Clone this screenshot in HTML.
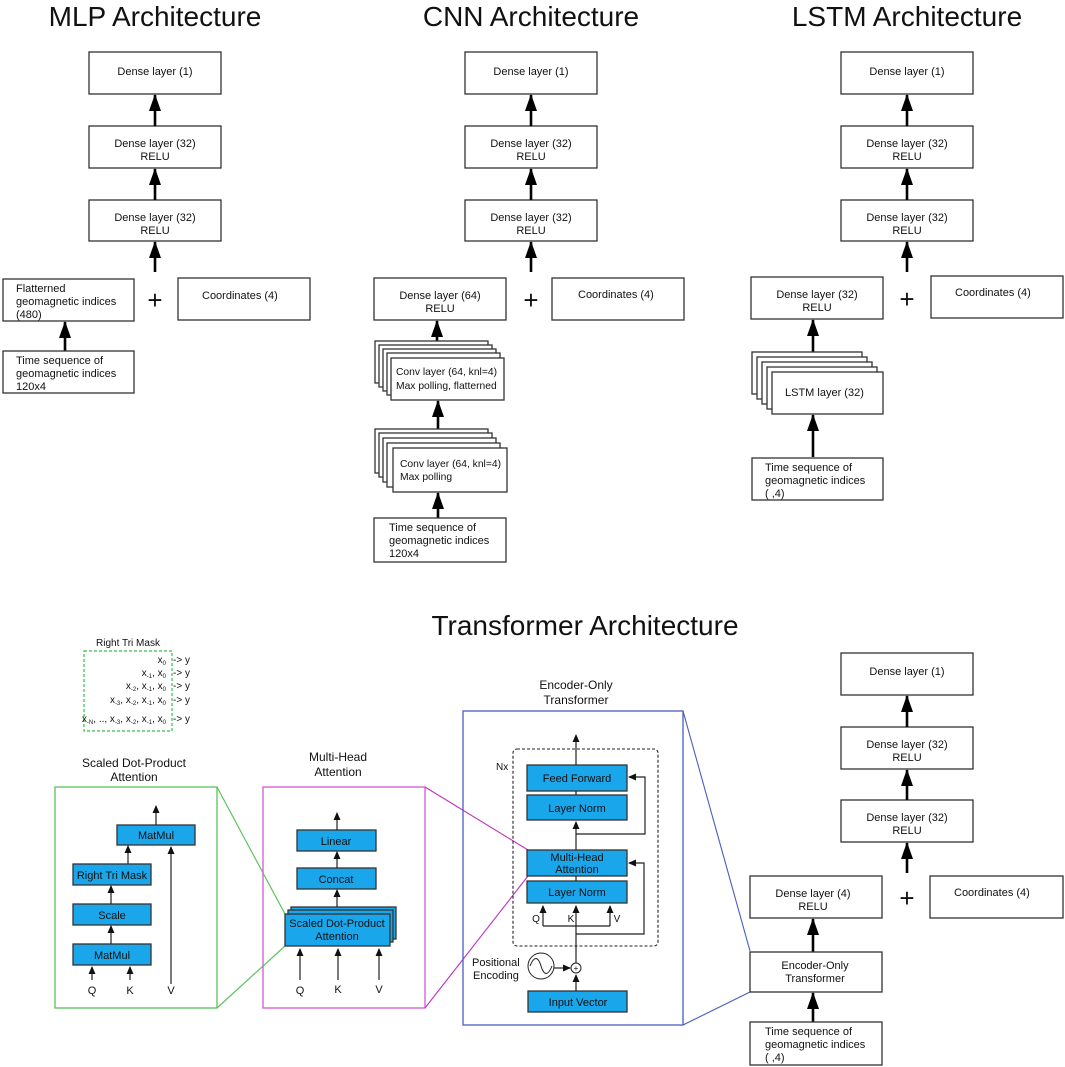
<!DOCTYPE html>
<html><head><meta charset="utf-8"><style>
html,body{margin:0;padding:0;background:#fff}
svg{display:block}
text{font-family:"Liberation Sans",Arial,sans-serif;fill:#111}
.b{fill:#fff;stroke:#333;stroke-width:1.3}
.t{font-size:11px}
.tc{font-size:10.3px}
.tt{font-size:28px}
.bl{fill:#1aa6ea;stroke:#333;stroke-width:1.3}
.a{stroke:#000;stroke-width:2.6;marker-end:url(#big)}
.s{stroke:#222;stroke-width:1.2;fill:none}
.sa{stroke:#222;stroke-width:1.2;fill:none;marker-end:url(#sm)}
.pl{font-size:26px}
</style></head><body>
<svg width="1065" height="1067" viewBox="0 0 1065 1067" xmlns="http://www.w3.org/2000/svg">
<defs>
<marker id="big" markerUnits="userSpaceOnUse" markerWidth="12" markerHeight="18" refX="6" refY="1" orient="0">
<path d="M0,17 L6,0 L12,17 z" fill="#000"/></marker>
<marker id="sm" markerUnits="userSpaceOnUse" markerWidth="8" markerHeight="8" refX="7" refY="3.5" orient="auto">
<path d="M0,0 L8,3.5 L0,7 z" fill="#111"/></marker>
</defs>

<!-- MLP -->
<text x="155" y="26" text-anchor="middle" class="tt">MLP Architecture</text>
<rect class="b" x="89" y="52" width="132" height="42"/><text class="t" x="155" y="75" text-anchor="middle">Dense layer (1)</text>
<rect class="b" x="89" y="126" width="132" height="42"/><text class="t" x="155" y="147" text-anchor="middle">Dense layer (32)</text><text class="t" x="155" y="160" text-anchor="middle">RELU</text>
<rect class="b" x="89" y="200" width="132" height="41"/><text class="t" x="155" y="221" text-anchor="middle">Dense layer (32)</text><text class="t" x="155" y="234" text-anchor="middle">RELU</text>
<line class="a" x1="155" y1="126" x2="155" y2="95"/>
<line class="a" x1="155" y1="200" x2="155" y2="169"/>
<line class="a" x1="155" y1="272" x2="155" y2="242"/>
<rect class="b" x="3" y="279" width="131" height="42"/><text class="t" x="16" y="292">Flatterned</text><text class="t" x="16" y="305">geomagnetic indices</text><text class="t" x="16" y="318">(480)</text>
<text class="pl" x="155" y="309" text-anchor="middle">+</text>
<rect class="b" x="178" y="278" width="132" height="42"/><text class="t" x="202" y="299">Coordinates (4)</text>
<line class="a" x1="65" y1="351" x2="65" y2="322"/>
<rect class="b" x="3" y="351" width="131" height="42"/><text class="t" x="16" y="364">Time sequence of</text><text class="t" x="16" y="377">geomagnetic indices</text><text class="t" x="16" y="390">120x4</text>

<!-- CNN -->
<text x="531" y="26" text-anchor="middle" class="tt">CNN Architecture</text>
<rect class="b" x="465" y="52" width="132" height="42"/><text class="t" x="531" y="75" text-anchor="middle">Dense layer (1)</text>
<rect class="b" x="465" y="126" width="132" height="42"/><text class="t" x="531" y="147" text-anchor="middle">Dense layer (32)</text><text class="t" x="531" y="160" text-anchor="middle">RELU</text>
<rect class="b" x="465" y="200" width="132" height="41"/><text class="t" x="531" y="221" text-anchor="middle">Dense layer (32)</text><text class="t" x="531" y="234" text-anchor="middle">RELU</text>
<line class="a" x1="531" y1="126" x2="531" y2="95"/>
<line class="a" x1="531" y1="200" x2="531" y2="169"/>
<line class="a" x1="531" y1="272" x2="531" y2="242"/>
<rect class="b" x="374" y="278" width="132" height="42"/><text class="t" x="440" y="299" text-anchor="middle">Dense layer (64)</text><text class="t" x="440" y="312" text-anchor="middle">RELU</text>
<text class="pl" x="531" y="309" text-anchor="middle">+</text>
<rect class="b" x="552" y="278" width="132" height="42"/><text class="t" x="578" y="298">Coordinates (4)</text>
<line class="a" x1="437" y1="342" x2="437" y2="321"/>
<rect class="b" x="375" y="341" width="113" height="42"/>
<rect class="b" x="379" y="345" width="113" height="42"/>
<rect class="b" x="383" y="349" width="113" height="42"/>
<rect class="b" x="387" y="353" width="113" height="42"/>
<rect class="b" x="391" y="358" width="113" height="42"/>
<text class="tc" x="396" y="375">Conv layer (64, knl=4)</text><text class="tc" x="396" y="389">Max polling, flatterned</text>
<line class="a" x1="438" y1="429" x2="438" y2="401"/>
<rect class="b" x="375" y="429" width="113" height="44"/>
<rect class="b" x="379" y="433" width="113" height="44"/>
<rect class="b" x="383" y="438" width="113" height="44"/>
<rect class="b" x="387" y="443" width="113" height="44"/>
<rect class="b" x="393" y="448" width="114" height="44"/>
<text class="tc" x="400" y="467">Conv layer (64, knl=4)</text><text class="tc" x="400" y="480">Max polling</text>
<line class="a" x1="438" y1="518" x2="438" y2="493"/>
<rect class="b" x="374" y="518" width="132" height="44"/><text class="t" x="389" y="531">Time sequence of</text><text class="t" x="389" y="544">geomagnetic indices</text><text class="t" x="389" y="557">120x4</text>

<!-- LSTM -->
<text x="907" y="26" text-anchor="middle" class="tt">LSTM Architecture</text>
<rect class="b" x="841" y="52" width="132" height="42"/><text class="t" x="907" y="75" text-anchor="middle">Dense layer (1)</text>
<rect class="b" x="841" y="126" width="132" height="42"/><text class="t" x="907" y="147" text-anchor="middle">Dense layer (32)</text><text class="t" x="907" y="160" text-anchor="middle">RELU</text>
<rect class="b" x="841" y="200" width="132" height="41"/><text class="t" x="907" y="221" text-anchor="middle">Dense layer (32)</text><text class="t" x="907" y="234" text-anchor="middle">RELU</text>
<line class="a" x1="907" y1="126" x2="907" y2="95"/>
<line class="a" x1="907" y1="200" x2="907" y2="169"/>
<line class="a" x1="907" y1="272" x2="907" y2="242"/>
<rect class="b" x="751" y="277" width="132" height="42"/><text class="t" x="817" y="298" text-anchor="middle">Dense layer (32)</text><text class="t" x="817" y="311" text-anchor="middle">RELU</text>
<text class="pl" x="907" y="308" text-anchor="middle">+</text>
<rect class="b" x="931" y="276" width="132" height="42"/><text class="t" x="955" y="296">Coordinates (4)</text>
<line class="a" x1="813" y1="352" x2="813" y2="320"/>
<rect class="b" x="752" y="352" width="110" height="42"/>
<rect class="b" x="757" y="357" width="110" height="42"/>
<rect class="b" x="762" y="362" width="110" height="42"/>
<rect class="b" x="767" y="367" width="110" height="42"/>
<rect class="b" x="772" y="372" width="111" height="42"/>
<text class="t" x="785" y="396">LSTM layer (32)</text>
<line class="a" x1="813" y1="457" x2="813" y2="415"/>
<rect class="b" x="752" y="458" width="131" height="42"/><text class="t" x="765" y="471">Time sequence of</text><text class="t" x="765" y="484">geomagnetic indices</text><text class="t" x="765" y="497">( ,4)</text>

<!-- Transformer -->
<text x="585" y="635" text-anchor="middle" class="tt">Transformer Architecture</text>

<text class="t" x="128" y="646" text-anchor="middle" style="font-size:10px">Right Tri Mask</text>
<rect x="84" y="651" width="88" height="80" fill="none" stroke="#3bbf4a" stroke-width="1.2" stroke-dasharray="3,2"/>
<g>
<text x="166" y="663" text-anchor="end" class="t" style="font-size:10px">x<tspan font-size="6" dy="2">0</tspan></text>
<text x="166" y="676" text-anchor="end" class="t" style="font-size:10px">x<tspan font-size="6" dy="2">-1</tspan><tspan dy="-2">, x</tspan><tspan font-size="6" dy="2">0</tspan></text>
<text x="166" y="689" text-anchor="end" class="t" style="font-size:10px">x<tspan font-size="6" dy="2">-2</tspan><tspan dy="-2">, x</tspan><tspan font-size="6" dy="2">-1</tspan><tspan dy="-2">, x</tspan><tspan font-size="6" dy="2">0</tspan></text>
<text x="166" y="703" text-anchor="end" class="t" style="font-size:10px">x<tspan font-size="6" dy="2">-3</tspan><tspan dy="-2">, x</tspan><tspan font-size="6" dy="2">-2</tspan><tspan dy="-2">, x</tspan><tspan font-size="6" dy="2">-1</tspan><tspan dy="-2">, x</tspan><tspan font-size="6" dy="2">0</tspan></text>
<text x="166" y="722" text-anchor="end" class="t" style="font-size:10px">x<tspan font-size="6" dy="2">-N</tspan><tspan dy="-2">, .., x</tspan><tspan font-size="6" dy="2">-3</tspan><tspan dy="-2">, x</tspan><tspan font-size="6" dy="2">-2</tspan><tspan dy="-2">, x</tspan><tspan font-size="6" dy="2">-1</tspan><tspan dy="-2">, x</tspan><tspan font-size="6" dy="2">0</tspan></text>
<text x="173" y="663" class="t" style="font-size:10px">-&gt; y</text>
<text x="173" y="676" class="t" style="font-size:10px">-&gt; y</text>
<text x="173" y="689" class="t" style="font-size:10px">-&gt; y</text>
<text x="173" y="703" class="t" style="font-size:10px">-&gt; y</text>
<text x="173" y="722" class="t" style="font-size:10px">-&gt; y</text>
</g>

<!-- SDPA -->
<text x="134" y="767" text-anchor="middle" style="font-size:12px">Scaled Dot-Product</text>
<text x="134" y="781" text-anchor="middle" style="font-size:12px">Attention</text>
<rect x="55" y="787" width="162" height="221" fill="none" stroke="#5cc35c" stroke-width="1.3"/>
<line x1="217" y1="787" x2="285" y2="914" stroke="#5cc35c" stroke-width="1.2"/>
<line x1="217" y1="1008" x2="285" y2="946" stroke="#5cc35c" stroke-width="1.2"/>
<rect class="bl" x="117" y="825" width="78" height="20"/><text class="t" x="156" y="839" text-anchor="middle">MatMul</text>
<rect class="bl" x="73" y="864" width="78" height="21"/><text class="t" x="112" y="879" text-anchor="middle">Right Tri Mask</text>
<rect class="bl" x="73" y="904" width="78" height="21"/><text class="t" x="112" y="919" text-anchor="middle">Scale</text>
<rect class="bl" x="73" y="944" width="78" height="21"/><text class="t" x="112" y="959" text-anchor="middle">MatMul</text>
<line class="sa" x1="156" y1="825" x2="156" y2="806"/>
<line class="sa" x1="128" y1="864" x2="128" y2="846"/>
<line class="sa" x1="111" y1="904" x2="111" y2="886"/>
<line class="sa" x1="111" y1="944" x2="111" y2="926"/>
<line class="sa" x1="92" y1="980" x2="92" y2="967"/>
<line class="sa" x1="130" y1="980" x2="130" y2="967"/>
<line class="sa" x1="171" y1="984" x2="171" y2="847"/>
<text class="t" x="92" y="994" text-anchor="middle">Q</text>
<text class="t" x="130" y="994" text-anchor="middle">K</text>
<text class="t" x="171" y="994" text-anchor="middle">V</text>

<!-- MHA -->
<text x="338" y="761" text-anchor="middle" style="font-size:12px">Multi-Head</text>
<text x="338" y="776" text-anchor="middle" style="font-size:12px">Attention</text>
<rect x="263" y="787" width="162" height="221" fill="none" stroke="#d25ad2" stroke-width="1.3"/>
<line x1="425" y1="787" x2="528" y2="850" stroke="#c030c0" stroke-width="1.1"/>
<line x1="425" y1="1008" x2="528" y2="876" stroke="#c030c0" stroke-width="1.1"/>
<rect class="bl" x="297" y="830" width="79" height="21"/><text class="t" x="336" y="845" text-anchor="middle">Linear</text>
<rect class="bl" x="297" y="868" width="79" height="21"/><text class="t" x="336" y="883" text-anchor="middle">Concat</text>
<rect class="bl" x="291" y="907" width="105" height="32"/>
<rect class="bl" x="288" y="910" width="105" height="32"/>
<rect class="bl" x="285" y="914" width="105" height="32"/>
<text class="t" x="337" y="927" text-anchor="middle">Scaled Dot-Product</text>
<text class="t" x="337" y="940" text-anchor="middle">Attention</text>
<line class="sa" x1="337" y1="830" x2="337" y2="813"/>
<line class="sa" x1="337" y1="868" x2="337" y2="852"/>
<line class="sa" x1="337" y1="907" x2="337" y2="890"/>
<line class="sa" x1="300" y1="980" x2="300" y2="949"/>
<line class="sa" x1="338" y1="980" x2="338" y2="949"/>
<line class="sa" x1="379" y1="980" x2="379" y2="949"/>
<text class="t" x="300" y="994" text-anchor="middle">Q</text>
<text class="t" x="338" y="993" text-anchor="middle">K</text>
<text class="t" x="379" y="993" text-anchor="middle">V</text>

<!-- Encoder -->
<text x="576" y="689" text-anchor="middle" style="font-size:12px">Encoder-Only</text>
<text x="576" y="704" text-anchor="middle" style="font-size:12px">Transformer</text>
<rect x="463" y="711" width="220" height="314" fill="none" stroke="#4a5cc0" stroke-width="1.3"/>
<line x1="683" y1="711" x2="750" y2="951" stroke="#4a5cc0" stroke-width="1.1"/>
<line x1="683" y1="1025" x2="750" y2="992" stroke="#4a5cc0" stroke-width="1.1"/>
<rect x="513" y="749" width="145" height="197" rx="4" fill="none" stroke="#222" stroke-width="1.1" stroke-dasharray="3,2"/>
<text class="t" x="496" y="770" style="font-size:10px">Nx</text>
<line class="sa" x1="576" y1="765" x2="576" y2="735"/>
<rect class="bl" x="527" y="765" width="100" height="26"/><text class="t" x="577" y="782" text-anchor="middle">Feed Forward</text>
<rect class="bl" x="527" y="795" width="100" height="25"/><text class="t" x="577" y="812" text-anchor="middle">Layer Norm</text>
<line class="s" x1="576" y1="791" x2="576" y2="795"/>
<line class="sa" x1="576" y1="850" x2="576" y2="822"/>
<polyline class="sa" points="576,834 645,834 645,777 629,777"/>
<rect class="bl" x="527" y="850" width="100" height="26"/><text class="t" x="577" y="861" text-anchor="middle">Multi-Head</text><text class="t" x="577" y="873" text-anchor="middle">Attention</text>
<rect class="bl" x="527" y="881" width="100" height="22"/><text class="t" x="577" y="896" text-anchor="middle">Layer Norm</text>
<line class="s" x1="576" y1="876" x2="576" y2="881"/>
<polyline class="s" points="543,926 610,926"/>
<line class="sa" x1="543" y1="926" x2="543" y2="906"/>
<line class="sa" x1="610" y1="926" x2="610" y2="906"/>
<line class="sa" x1="576" y1="963" x2="576" y2="906"/>
<polyline class="sa" points="576,934 644,934 644,863 629,863"/>
<text class="t" x="536" y="922" text-anchor="middle" style="font-size:10px">Q</text>
<text class="t" x="571" y="922" text-anchor="middle" style="font-size:10px">K</text>
<text class="t" x="617" y="922" text-anchor="middle" style="font-size:10px">V</text>
<circle cx="576" cy="968" r="5" fill="#fff" stroke="#222" stroke-width="1"/>
<text x="576" y="971" text-anchor="middle" style="font-size:8px">+</text>
<circle cx="541" cy="966" r="13" fill="#fff" stroke="#222" stroke-width="1"/>
<path d="M530,966 C534,956 538,956 541,966 C544,976 548,976 552,966" fill="none" stroke="#222" stroke-width="1"/>
<line class="sa" x1="554" y1="968" x2="570" y2="968"/>
<text class="t" x="472" y="966">Positional</text>
<text class="t" x="473" y="979">Encoding</text>
<rect class="bl" x="528" y="991" width="99" height="21"/><text class="t" x="578" y="1006" text-anchor="middle">Input Vector</text>
<line class="sa" x1="576" y1="991" x2="576" y2="975"/>

<!-- right stack -->
<rect class="b" x="841" y="653" width="132" height="42"/><text class="t" x="907" y="675" text-anchor="middle">Dense layer (1)</text>
<rect class="b" x="841" y="727" width="132" height="42"/><text class="t" x="907" y="748" text-anchor="middle">Dense layer (32)</text><text class="t" x="907" y="761" text-anchor="middle">RELU</text>
<rect class="b" x="841" y="800" width="132" height="42"/><text class="t" x="907" y="821" text-anchor="middle">Dense layer (32)</text><text class="t" x="907" y="834" text-anchor="middle">RELU</text>
<line class="a" x1="907" y1="727" x2="907" y2="696"/>
<line class="a" x1="907" y1="800" x2="907" y2="770"/>
<line class="a" x1="907" y1="873" x2="907" y2="843"/>
<rect class="b" x="750" y="876" width="132" height="42"/><text class="t" x="813" y="897" text-anchor="middle">Dense layer (4)</text><text class="t" x="813" y="910" text-anchor="middle">RELU</text>
<text class="pl" x="907" y="907" text-anchor="middle">+</text>
<rect class="b" x="930" y="876" width="133" height="42"/><text class="t" x="954" y="896">Coordinates (4)</text>
<line class="a" x1="813" y1="952" x2="813" y2="919"/>
<rect class="b" x="750" y="952" width="132" height="40"/><text class="t" x="815" y="969" text-anchor="middle">Encoder-Only</text><text class="t" x="815" y="982" text-anchor="middle">Transformer</text>
<line class="a" x1="813" y1="1022" x2="813" y2="993"/>
<rect class="b" x="750" y="1022" width="132" height="43"/><text class="t" x="765" y="1035">Time sequence of</text><text class="t" x="765" y="1048">geomagnetic indices</text><text class="t" x="765" y="1061">( ,4)</text>
</svg>
</body></html>
